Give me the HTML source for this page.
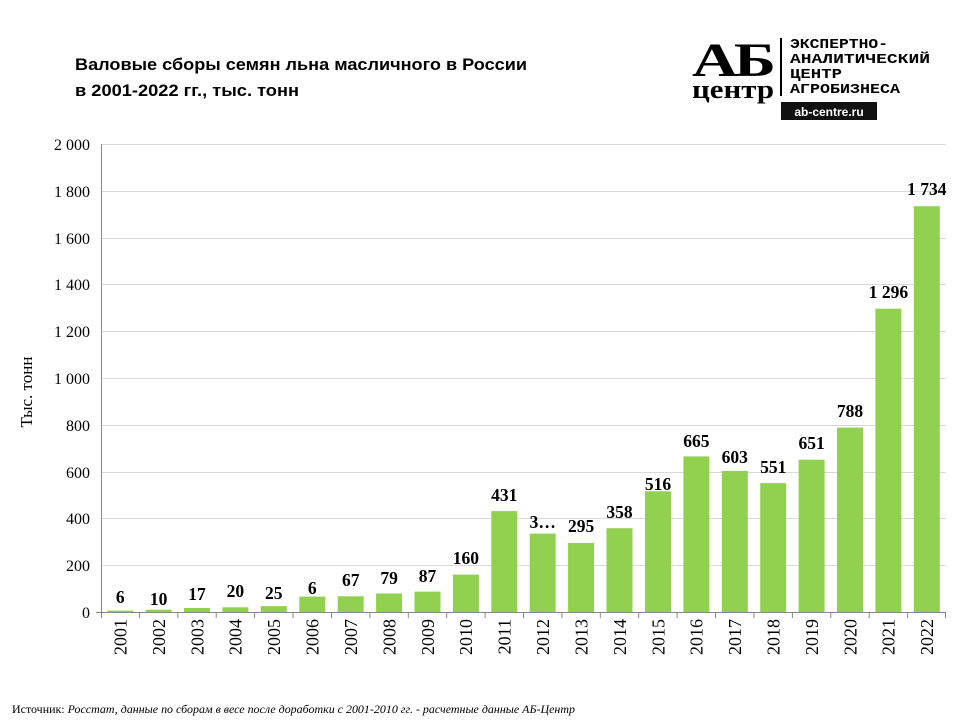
<!DOCTYPE html>
<html><head><meta charset="utf-8"><style>body{margin:0;background:#fff}svg{display:block}</style></head><body>
<svg width="960" height="720" xmlns="http://www.w3.org/2000/svg">
<text x="75" y="70" font-family="Liberation Sans, sans-serif" font-weight="bold" font-size="17" textLength="452" lengthAdjust="spacingAndGlyphs">Валовые сборы семян льна масличного в России</text>
<text x="75" y="96" font-family="Liberation Sans, sans-serif" font-weight="bold" font-size="17" textLength="224" lengthAdjust="spacingAndGlyphs">в 2001-2022 гг., тыс. тонн</text>
<g font-family="Liberation Serif, serif" font-weight="bold">
<text x="692" y="76" font-size="48" letter-spacing="-3" textLength="80" lengthAdjust="spacingAndGlyphs">АБ</text>
<text x="692" y="98" font-size="26" textLength="82" lengthAdjust="spacingAndGlyphs">центр</text>
</g>
<line x1="781" y1="38" x2="781" y2="96" stroke="#000" stroke-width="2"/>
<g font-family="Liberation Mono, monospace" font-weight="bold" font-size="13.5">
<text x="790" y="48" textLength="98" lengthAdjust="spacingAndGlyphs">ЭКСПЕРТНО-</text><text x="790" y="63" textLength="140" lengthAdjust="spacingAndGlyphs">АНАЛИТИЧЕСКИЙ</text><text x="790" y="78" textLength="52" lengthAdjust="spacingAndGlyphs">ЦЕНТР</text><text x="790" y="93" textLength="110" lengthAdjust="spacingAndGlyphs">АГРОБИЗНЕСА</text>
</g>
<rect x="781" y="102" width="96" height="18" fill="#111"/>
<text x="829" y="116" text-anchor="middle" fill="#fff" font-family="Liberation Sans, sans-serif" font-weight="bold" font-size="12">ab-centre.ru</text>
<g stroke="#d9d9d9" stroke-width="1">
<line x1="101" y1="144.5" x2="946" y2="144.5"/><line x1="101" y1="191.5" x2="946" y2="191.5"/><line x1="101" y1="238.5" x2="946" y2="238.5"/><line x1="101" y1="284.5" x2="946" y2="284.5"/><line x1="101" y1="331.5" x2="946" y2="331.5"/><line x1="101" y1="378.5" x2="946" y2="378.5"/><line x1="101" y1="425.5" x2="946" y2="425.5"/><line x1="101" y1="472.5" x2="946" y2="472.5"/><line x1="101" y1="518.5" x2="946" y2="518.5"/><line x1="101" y1="565.5" x2="946" y2="565.5"/>
</g>
<g font-family="Liberation Serif, serif" font-size="16" text-anchor="end">
<text x="90" y="150">2 000</text><text x="90" y="197">1 800</text><text x="90" y="244">1 600</text><text x="90" y="290">1 400</text><text x="90" y="337">1 200</text><text x="90" y="384">1 000</text><text x="90" y="431">800</text><text x="90" y="478">600</text><text x="90" y="524">400</text><text x="90" y="571">200</text><text x="90" y="618">0</text>
</g>
<text transform="translate(32,392) rotate(-90)" text-anchor="middle" font-family="Liberation Serif, serif" font-size="17">Тыс. тонн</text>
<g fill="#92d050">
<rect x="107.2" y="610.6" width="26" height="1.4"/>
<rect x="145.6" y="609.7" width="26" height="2.3"/>
<rect x="184.0" y="608.0" width="26" height="4.0"/>
<rect x="222.4" y="607.3" width="26" height="4.7"/>
<rect x="260.8" y="606.1" width="26" height="5.9"/>
<rect x="299.3" y="596.6" width="26" height="15.4"/>
<rect x="337.7" y="596.3" width="26" height="15.7"/>
<rect x="376.1" y="593.5" width="26" height="18.5"/>
<rect x="414.5" y="591.6" width="26" height="20.4"/>
<rect x="452.9" y="574.6" width="26" height="37.4"/>
<rect x="491.3" y="511.1" width="26" height="100.9"/>
<rect x="529.7" y="533.6" width="26" height="78.4"/>
<rect x="568.1" y="543.0" width="26" height="69.0"/>
<rect x="606.5" y="528.2" width="26" height="83.8"/>
<rect x="645.0" y="491.3" width="26" height="120.7"/>
<rect x="683.4" y="456.4" width="26" height="155.6"/>
<rect x="721.8" y="470.9" width="26" height="141.1"/>
<rect x="760.2" y="483.1" width="26" height="128.9"/>
<rect x="798.6" y="459.7" width="26" height="152.3"/>
<rect x="837.0" y="427.6" width="26" height="184.4"/>
<rect x="875.4" y="308.7" width="26" height="303.3"/>
<rect x="913.8" y="206.2" width="26" height="405.8"/>
</g>
<g font-family="Liberation Serif, serif" font-weight="bold" font-size="17.5" text-anchor="middle">
<text x="120.2" y="603">6</text>
<text x="158.6" y="605">10</text>
<text x="197.0" y="600">17</text>
<text x="235.4" y="597">20</text>
<text x="273.8" y="599">25</text>
<text x="312.3" y="594">6</text>
<text x="350.7" y="586">67</text>
<text x="389.1" y="584">79</text>
<text x="427.5" y="582">87</text>
<text x="465.9" y="564">160</text>
<text x="504.3" y="501">431</text>
<text x="542.7" y="528">3…</text>
<text x="581.1" y="532">295</text>
<text x="619.5" y="518">358</text>
<text x="658.0" y="490">516</text>
<text x="696.4" y="447">665</text>
<text x="734.8" y="463">603</text>
<text x="773.2" y="473">551</text>
<text x="811.6" y="449">651</text>
<text x="850.0" y="417">788</text>
<text x="888.4" y="298">1 296</text>
<text x="926.8" y="195">1 734</text>
</g>
<line x1="101.5" y1="144" x2="101.5" y2="612" stroke="#888"/>
<line x1="96" y1="612.5" x2="946" y2="612.5" stroke="#888"/>
<g stroke="#888">
<line x1="101.5" y1="612" x2="101.5" y2="618"/><line x1="139.4" y1="612" x2="139.4" y2="618"/><line x1="177.8" y1="612" x2="177.8" y2="618"/><line x1="216.2" y1="612" x2="216.2" y2="618"/><line x1="254.6" y1="612" x2="254.6" y2="618"/><line x1="293.0" y1="612" x2="293.0" y2="618"/><line x1="331.5" y1="612" x2="331.5" y2="618"/><line x1="369.9" y1="612" x2="369.9" y2="618"/><line x1="408.3" y1="612" x2="408.3" y2="618"/><line x1="446.7" y1="612" x2="446.7" y2="618"/><line x1="485.1" y1="612" x2="485.1" y2="618"/><line x1="523.5" y1="612" x2="523.5" y2="618"/><line x1="561.9" y1="612" x2="561.9" y2="618"/><line x1="600.3" y1="612" x2="600.3" y2="618"/><line x1="638.7" y1="612" x2="638.7" y2="618"/><line x1="677.1" y1="612" x2="677.1" y2="618"/><line x1="715.5" y1="612" x2="715.5" y2="618"/><line x1="753.9" y1="612" x2="753.9" y2="618"/><line x1="792.4" y1="612" x2="792.4" y2="618"/><line x1="830.8" y1="612" x2="830.8" y2="618"/><line x1="869.2" y1="612" x2="869.2" y2="618"/><line x1="907.6" y1="612" x2="907.6" y2="618"/><line x1="945.5" y1="612" x2="945.5" y2="618"/>
</g>
<g font-family="Liberation Serif, serif" font-size="18" text-anchor="end">
<text transform="translate(126.5,619) rotate(-90)">2001</text>
<text transform="translate(164.9,619) rotate(-90)">2002</text>
<text transform="translate(203.3,619) rotate(-90)">2003</text>
<text transform="translate(241.7,619) rotate(-90)">2004</text>
<text transform="translate(280.1,619) rotate(-90)">2005</text>
<text transform="translate(318.6,619) rotate(-90)">2006</text>
<text transform="translate(357.0,619) rotate(-90)">2007</text>
<text transform="translate(395.4,619) rotate(-90)">2008</text>
<text transform="translate(433.8,619) rotate(-90)">2009</text>
<text transform="translate(472.2,619) rotate(-90)">2010</text>
<text transform="translate(510.6,619) rotate(-90)">2011</text>
<text transform="translate(549.0,619) rotate(-90)">2012</text>
<text transform="translate(587.4,619) rotate(-90)">2013</text>
<text transform="translate(625.8,619) rotate(-90)">2014</text>
<text transform="translate(664.3,619) rotate(-90)">2015</text>
<text transform="translate(702.7,619) rotate(-90)">2016</text>
<text transform="translate(741.1,619) rotate(-90)">2017</text>
<text transform="translate(779.5,619) rotate(-90)">2018</text>
<text transform="translate(817.9,619) rotate(-90)">2019</text>
<text transform="translate(856.3,619) rotate(-90)">2020</text>
<text transform="translate(894.7,619) rotate(-90)">2021</text>
<text transform="translate(933.1,619) rotate(-90)">2022</text>
</g>
<text x="12" y="713" font-family="Liberation Serif, serif" font-size="12" textLength="563" lengthAdjust="spacingAndGlyphs">Источник: <tspan font-style="italic">Росстат, данные по сборам в весе после доработки с 2001-2010 гг. - расчетные данные АБ-Центр</tspan></text>
</svg>
</body></html>
